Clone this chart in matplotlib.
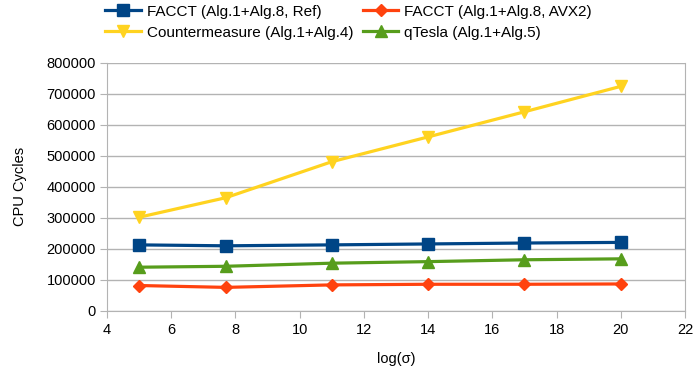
import matplotlib.pyplot as plt

plt.rcParams['font.family'] = ['Liberation Sans', 'DejaVu Sans']

# data
log_sigma = [5, 7.7, 11, 14, 17, 20]
facct_ref = [213000, 210000, 213000, 216000, 219000, 221000]
facct_avx2 = [82000, 76000, 84000, 86000, 86000, 87000]
countermeasure = [302000, 365000, 481000, 561000, 642000, 724000]
qtesla = [141000, 144000, 154000, 159000, 165000, 168000]

fig = plt.figure(figsize=(6.94, 3.76), dpi=100)
ax = fig.add_axes([0.154, 0.173, 0.833, 0.66])

ax.plot(log_sigma, facct_ref, color='#004586', lw=2.3, marker='s', ms=8,
        label='FACCT (Alg.1+Alg.8, Ref)')
ax.plot(log_sigma, facct_avx2, color='#ff420e', lw=2.3, marker='D', ms=6,
        label='FACCT (Alg.1+Alg.8, AVX2)')
ax.plot(log_sigma, countermeasure, color='#ffd320', lw=2.3, marker='v', ms=9,
        label='Countermeasure (Alg.1+Alg.4)')
ax.plot(log_sigma, qtesla, color='#579d1c', lw=2.3, marker='^', ms=9,
        label='qTesla (Alg.1+Alg.5)')

ax.set_xlim(4, 22)
ax.set_ylim(0, 800000)
ax.set_xticks(range(4, 23, 2))
ax.set_yticks(range(0, 800001, 100000))
ax.grid(axis='y', color='#b3b3b3', lw=1)
ax.set_axisbelow(True)
for s in ['left', 'bottom', 'right']:
    ax.spines[s].set_color('#b3b3b3')
ax.spines['top'].set_visible(False)
ax.tick_params(colors='#b3b3b3', labelcolor='black', labelsize=10.5, length=5)
ax.tick_params(axis='y', pad=3)

ax.set_xlabel('log(σ)', fontsize=10.5, labelpad=11)
ax.set_ylabel('CPU Cycles', fontsize=10.5, labelpad=14)

h, l = ax.get_legend_handles_labels()
order = [0, 2, 1, 3]
fig.legend([h[i] for i in order], [l[i] for i in order], ncol=2, frameon=False,
           loc='upper left', bbox_to_anchor=(0.141, 1.008), fontsize=11,
           borderpad=0, handlelength=2.3, columnspacing=0.65,
           labelspacing=0.45, handletextpad=0.4)

fig.savefig('out.png', dpi=100)
